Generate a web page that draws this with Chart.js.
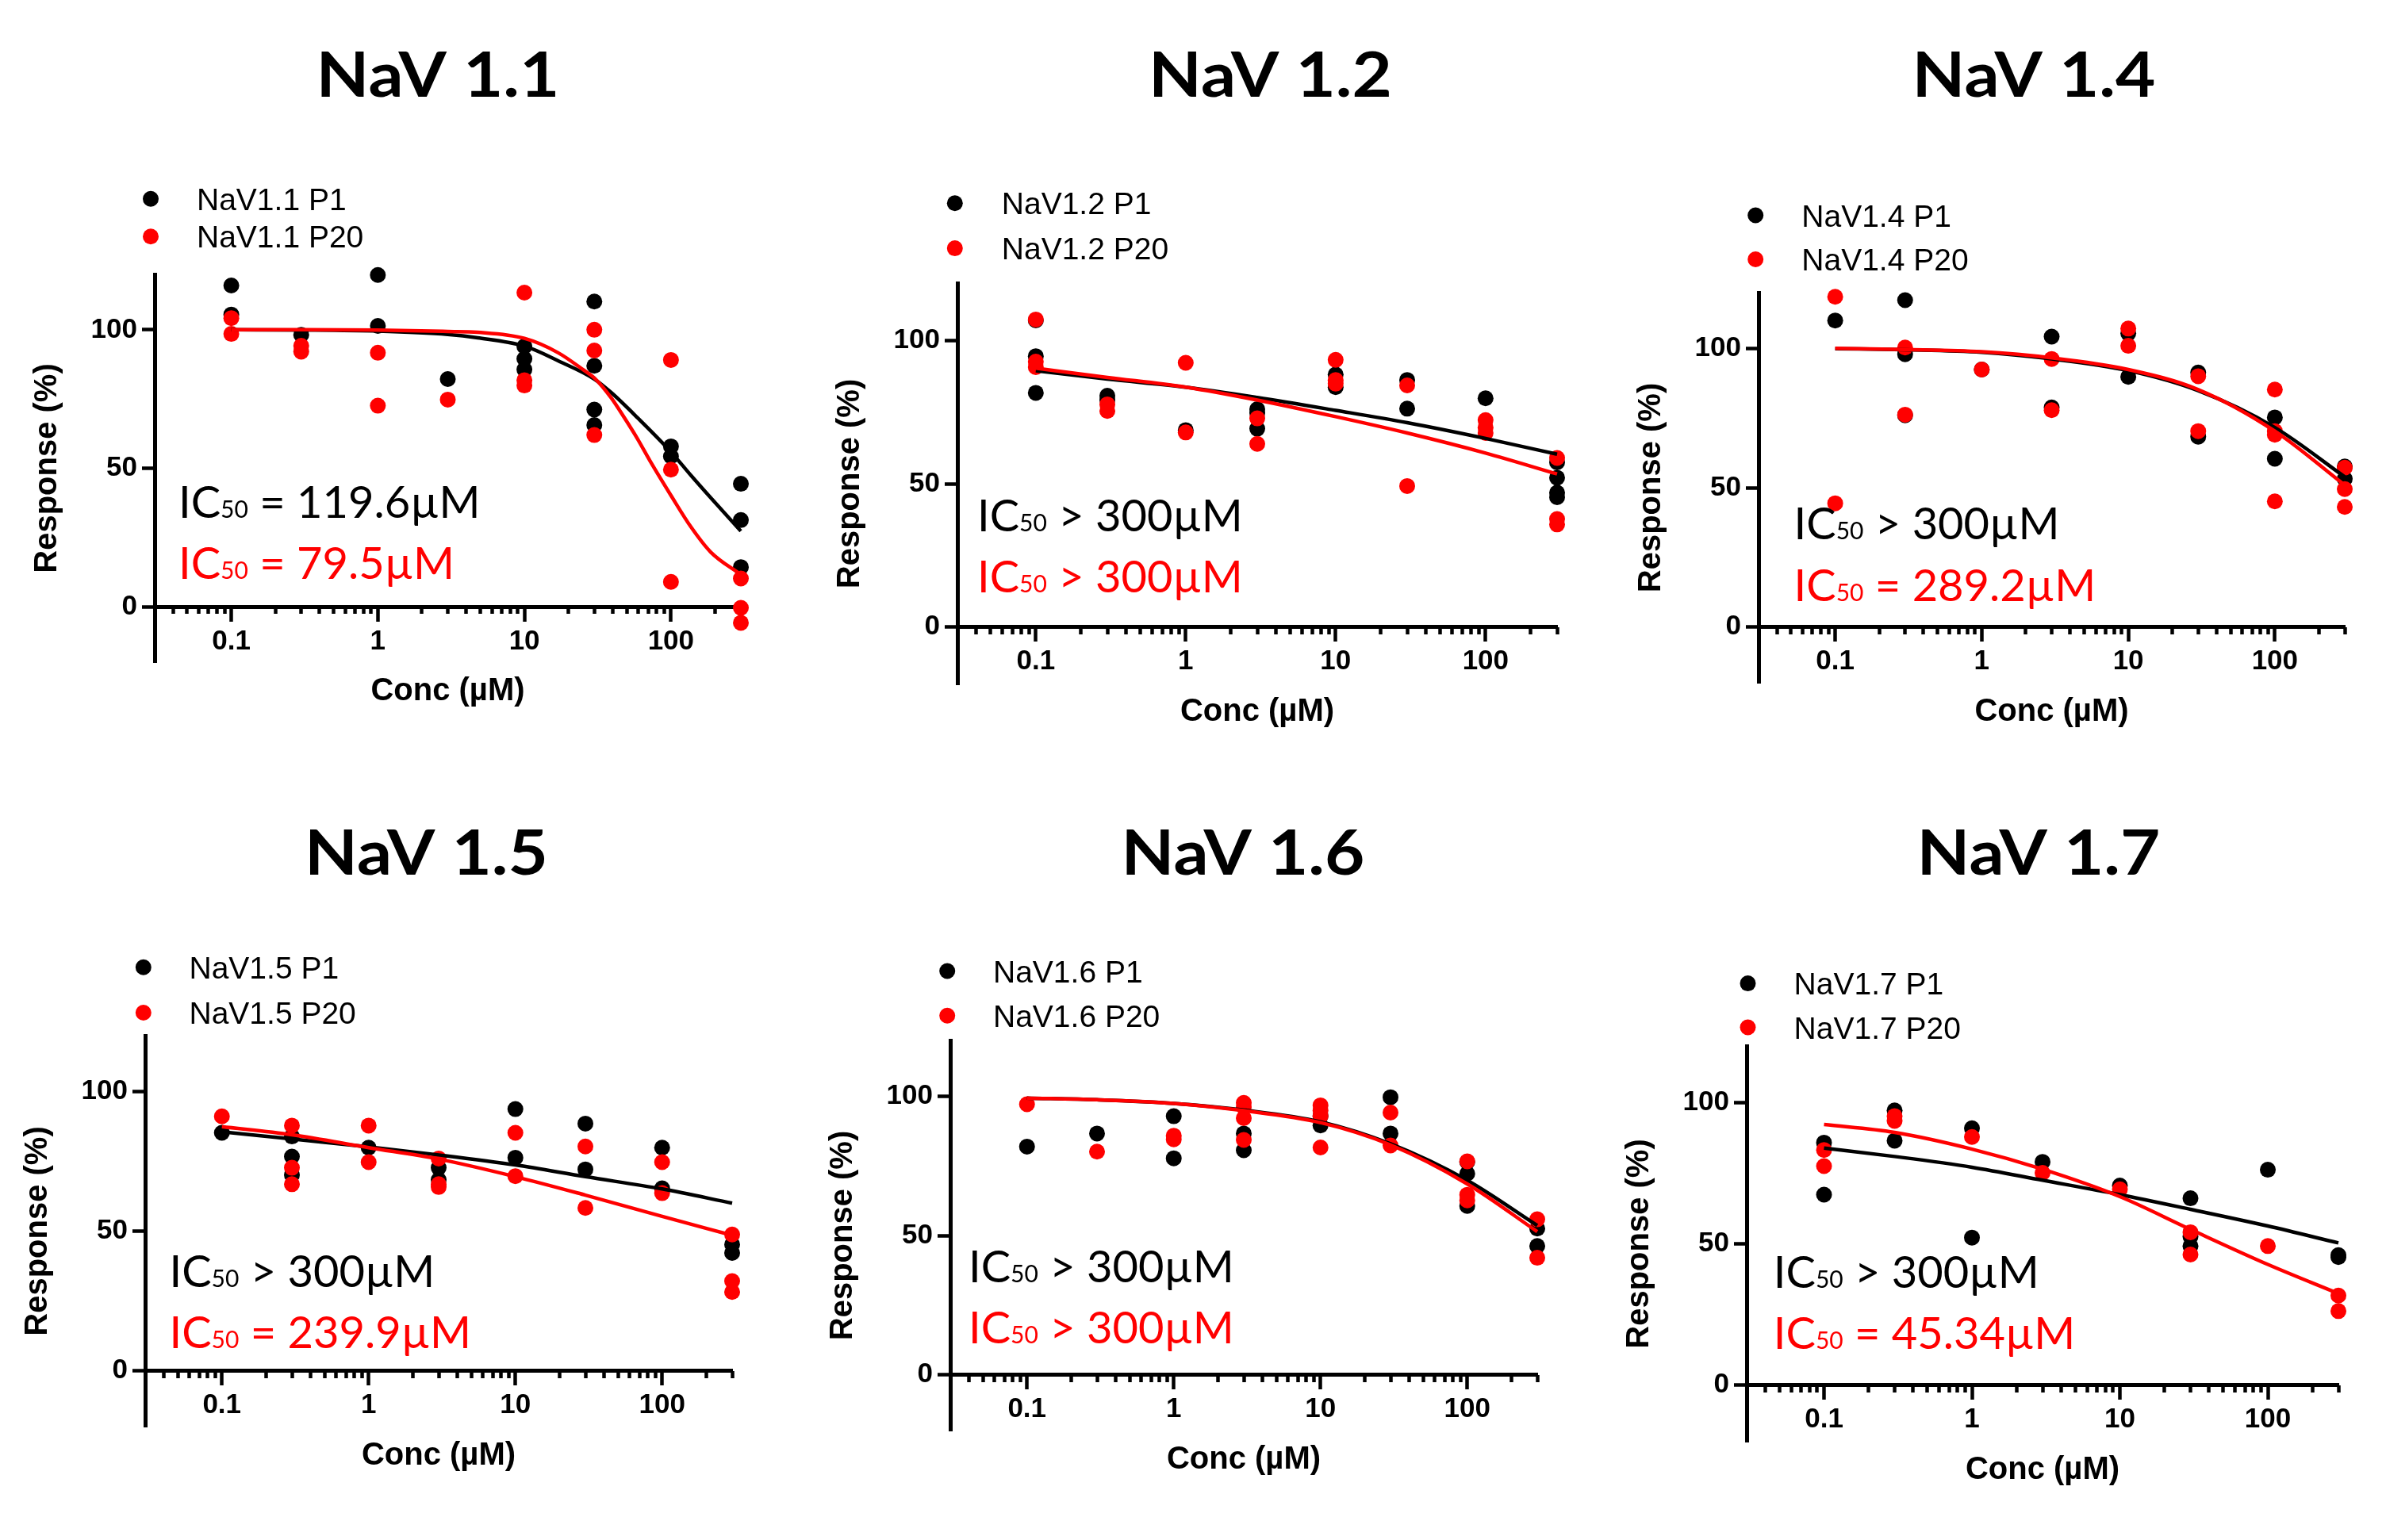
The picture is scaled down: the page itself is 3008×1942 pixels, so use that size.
<!DOCTYPE html>
<html>
<head>
<meta charset="utf-8">
<title>NaV channel concentration-response</title>
<script src="https://cdn.jsdelivr.net/npm/chart.js@4.4.1/dist/chart.umd.min.js"></script>
<style>
html,body{margin:0;padding:0;background:#ffffff;}
body{position:relative;width:3008px;height:1942px;overflow:hidden;}
canvas{position:absolute;}
</style>
</head>
<body>
<canvas id="c0"></canvas>
<canvas id="c1"></canvas>
<canvas id="c2"></canvas>
<canvas id="c3"></canvas>
<canvas id="c4"></canvas>
<canvas id="c5"></canvas>
<script>
// ---------- tick values / labels ----------
const majorTicks = [0.1, 1, 10, 100];
const xTickLabels = ['0.1', '1', '10', '100'];
const minorTicks = [0.04,0.05,0.06,0.07,0.08,0.09,0.2,0.3,0.4,0.5,0.6,0.7,0.8,0.9,2,3,4,5,6,7,8,9,20,30,40,50,60,70,80,90,200,300];
const yTicks = [0, 50, 100];
const yTickLabels = ['0', '50', '100'];

// ---------- panel texts ----------
const panelTitles = ['NaV 1.1', 'NaV 1.2', 'NaV 1.4', 'NaV 1.5', 'NaV 1.6', 'NaV 1.7'];
const legendP1 = ['NaV1.1 P1', 'NaV1.2 P1', 'NaV1.4 P1', 'NaV1.5 P1', 'NaV1.6 P1', 'NaV1.7 P1'];
const legendP20 = ['NaV1.1 P20', 'NaV1.2 P20', 'NaV1.4 P20', 'NaV1.5 P20', 'NaV1.6 P20', 'NaV1.7 P20'];
const ic50P1 = [' = 119.6µM', ' > 300µM', ' > 300µM', ' > 300µM', ' > 300µM', ' > 300µM'];
const ic50P20 = [' = 79.5µM', ' > 300µM', ' = 289.2µM', ' = 239.9µM', ' > 300µM', ' = 45.34µM'];

// ---------- data: [conc µM, response %] ----------
const nav11P1 = [[0.1,116],[0.1,105.5],[0.3,98.2],[1,119.8],[1,101.4],[3,82.2],[10,94],[10,89.5],[10,85.7],[30,110.2],[30,87],[30,71.2],[30,65.6],[100,57.9],[100,54.3],[300,44.4],[300,31.3],[300,14.3]];
const nav11P20 = [[0.1,104.2],[0.1,98.5],[0.3,94.2],[0.3,92.1],[1,91.7],[1,72.6],[3,74.8],[10,113.4],[10,81.8],[10,79.9],[30,100],[30,92.5],[30,62],[100,89.1],[100,49.5],[100,9],[300,10.2],[300,-0.4],[300,-5.8]];
const nav11P1Fit = [[0.1,100],[0.3,99.9],[1,99.5],[3,98.3],[4.8,97.1],[10,94.1],[17,88.8],[30,82.2],[39,77.4],[59,68.3],[100,55.9],[137,47.4],[187,39.3],[300,27.3]];
const nav11P20Fit = [[0.1,100],[0.3,100],[1,99.9],[3,99.4],[4.8,99.1],[10,96.9],[17,91.7],[25.6,85.3],[30,82.6],[39,75.5],[48,68.3],[59,60.7],[73,52.1],[100,40.2],[137,28.8],[187,19.7],[300,11.6]];

const nav12P1 = [[0.1,107],[0.1,94.5],[0.1,81.7],[0.3,80.7],[0.3,79.2],[1,68.7],[3,76],[3,74.7],[3,69.2],[10,88.1],[10,83.7],[30,86.2],[30,76.2],[100,79.8],[300,57.5],[300,52.1],[300,46.9],[300,45.3]];
const nav12P20 = [[0.1,107.3],[0.1,92.6],[0.1,90.7],[0.3,77.7],[0.3,75.4],[1,92.2],[1,67.9],[3,72.8],[3,63.9],[10,93.2],[10,86.2],[10,84.9],[30,84.3],[30,49.2],[100,72.2],[100,69.6],[100,67.7],[300,59],[300,37.7],[300,35.8]];
const nav12P1Fit = [[0.1,89.4],[0.3,86.5],[1,83.7],[3,80.1],[10,75.6],[30,71.3],[100,65.8],[300,60.3]];
const nav12P20Fit = [[0.1,90.3],[0.3,87.1],[1,83.7],[3,79.2],[10,73.4],[30,67.7],[100,60.7],[300,53.4]];

const nav14P1 = [[0.1,110],[0.3,117.3],[0.3,97.9],[0.3,76],[1,92.4],[3,104.2],[3,78.8],[10,105.4],[10,89.8],[30,91.3],[30,68.3],[100,75.2],[100,60.4],[300,57.6],[300,53.2]];
const nav14P20 = [[0.1,118.5],[0.1,44.4],[0.3,100.3],[0.3,76.2],[1,92.4],[3,96.2],[3,77.8],[10,107.1],[10,100.9],[30,90],[30,70.3],[100,85.2],[100,70.3],[100,69],[100,45.1],[300,57.2],[300,49.5],[300,43.1]];
const nav14P1Fit = [[0.1,99.9],[0.3,99.5],[1,98.6],[3,96.2],[10,92],[30,84.8],[100,71.6],[300,53.9]];
const nav14P20Fit = [[0.1,100],[0.3,99.6],[1,98.8],[3,96.6],[10,92.4],[30,85.2],[100,70.3],[300,50.9]];

const nav15P1 = [[0.1,85.2],[0.3,83.9],[0.3,76.7],[0.3,70.1],[1,79.9],[3,72.7],[3,68.4],[10,93.7],[10,76.3],[30,88.5],[30,72.1],[100,79.9],[100,65.3],[300,45.2],[300,42.2]];
const nav15P20 = [[0.1,91.1],[0.3,87.8],[0.3,72.7],[0.3,66.8],[1,87.8],[1,74.7],[3,76],[3,66.8],[3,65.8],[10,85.2],[10,69.7],[30,80.3],[30,58.3],[100,74.7],[100,63.6],[300,48.8],[300,32.1],[300,28.2]];
const nav15P1Fit = [[0.1,85.6],[0.3,83],[1,80.2],[3,77.3],[10,73.7],[30,69.5],[100,65.1],[300,60]];
const nav15P20Fit = [[0.1,87.4],[0.3,84.5],[1,79.9],[3,75.8],[10,69.5],[30,62.9],[100,55.3],[300,48.5]];

const nav16P1 = [[0.1,81.9],[0.3,86.6],[1,92.8],[1,77.7],[3,86.6],[3,80.6],[10,89.5],[10,92.8],[30,99.6],[30,86.6],[100,76.4],[100,72.2],[100,60.6],[300,52.5],[300,46.2]];
const nav16P20 = [[0.1,97.1],[0.3,80.1],[1,85.8],[1,84.5],[3,97.6],[3,96.1],[3,92.1],[3,84.3],[10,96.7],[10,94.8],[10,92.8],[10,81.6],[30,94.1],[30,82.3],[100,76.6],[100,64.6],[100,62.6],[300,55.8],[300,42]];
const nav16P1Fit = [[0.1,99.3],[0.3,98.7],[1,97.4],[3,95],[10,90.8],[30,82.9],[100,69.8],[300,53.6]];
const nav16P20Fit = [[0.1,99.3],[0.3,98.7],[1,97.4],[3,94.8],[10,90.5],[30,82.5],[100,68.5],[300,51.4]];

const nav17P1 = [[0.1,85.8],[0.1,67.4],[0.3,97.2],[0.3,86.5],[1,90.9],[1,52.2],[3,79],[10,70.6],[30,66.1],[30,52.5],[30,49.2],[100,76.2],[300,46],[300,45.3]];
const nav17P20 = [[0.1,83.2],[0.1,77.5],[0.3,95.2],[0.3,93.5],[1,87.8],[3,75.1],[10,69.3],[30,54.1],[30,46.2],[100,49.2],[300,31.7],[300,26.2]];
const nav17P1Fit = [[0.1,83.9],[0.3,80.9],[1,77.1],[3,72.5],[10,67.4],[30,62.2],[100,56.3],[300,50.3]];
const nav17P20Fit = [[0.1,92.2],[0.3,89.4],[1,83.5],[3,76.4],[10,66.7],[30,55.1],[100,42.7],[300,32.4]];

const seriesP1 = [nav11P1, nav12P1, nav14P1, nav15P1, nav16P1, nav17P1];
const seriesP20 = [nav11P20, nav12P20, nav14P20, nav15P20, nav16P20, nav17P20];
const fitP1 = [nav11P1Fit, nav12P1Fit, nav14P1Fit, nav15P1Fit, nav16P1Fit, nav17P1Fit];
const fitP20 = [nav11P20Fit, nav12P20Fit, nav14P20Fit, nav15P20Fit, nav16P20Fit, nav17P20Fit];

// ---------- layout (pixels, relative to each canvas) ----------
const layoutCfg = [
  {left:0,    top:0,   w:1003, h:971, ca:[195,346,934,835], title:[552,121.7],   leg:[190,250.7,298.3,248],     ic:[225,653.3,730]},
  {left:1003, top:0,   w:1003, h:971, ca:[204,357,960,863], title:[598.5,121.7], leg:[200.8,256.3,313.1,259.8], ic:[229,669.8,746.8]},
  {left:2006, top:0,   w:1002, h:971, ca:[211,369,950,861], title:[558,121.7],   leg:[207.2,271.5,327,265.3],   ic:[255.6,680,757.5]},
  {left:0,    top:971, w:1003, h:971, ca:[183,335,923,828], title:[537.5,132],   leg:[180.8,248.8,306,238.5],   ic:[213.5,652,728.8]},
  {left:1003, top:971, w:1003, h:971, ca:[195,341,935,833], title:[564,132],     leg:[191.2,253.5,309.8,249],   ic:[218,645.7,723.2]},
  {left:2006, top:971, w:1002, h:971, ca:[196,348,942,847], title:[564,132],     leg:[197.5,269.1,324.5,255.6], ic:[229.8,652.6,729.7]}
];

const BLACK = '#000000';
const RED = '#ff0000';
const ARIAL = "'Liberation Sans', Arial, sans-serif";
const CALIBRI = "Lato, 'Open Sans', sans-serif";

const toXY = arr => arr.map(p => ({x: p[0], y: p[1]}));

const overlayPlugin = {
  id: 'overlay',
  afterDraw(chart, args, o) {
    const ctx = chart.ctx;
    ctx.save();
    ctx.textBaseline = 'alphabetic';
    // panel title (Calibri-like, slightly widened)
    ctx.save();
    ctx.fillStyle = BLACK;
    ctx.textAlign = 'center';
    ctx.font = "bold 79px " + CALIBRI;
    ctx.translate(o.titleX, o.titleY);
    ctx.scale(1.1, 1);
    ctx.fillText(o.title, 0, 0);
    ctx.restore();
    // legend
    ctx.textAlign = 'left';
    ctx.font = "39px " + ARIAL;
    const items = [[BLACK, o.leg1, o.legY1], [RED, o.leg2, o.legY2]];
    items.forEach(it => {
      ctx.fillStyle = it[0];
      ctx.beginPath();
      ctx.arc(o.dotX, it[2], 10, 0, Math.PI * 2);
      ctx.fill();
      ctx.fillStyle = BLACK;
      ctx.fillText(it[1], o.legTextX, it[2] + 14);
    });
    // IC50 annotations
    const ic = [[BLACK, o.ic1, o.icY1], [RED, o.ic2, o.icY2]];
    ic.forEach(it => {
      ctx.fillStyle = it[0];
      let x = o.icX;
      ctx.font = "56px " + CALIBRI;
      ctx.fillText('IC', x, it[2]);
      x += ctx.measureText('IC').width;
      ctx.font = "30px " + CALIBRI;
      ctx.fillText('50', x, it[2]);
      x += ctx.measureText('50').width;
      ctx.font = "56px " + CALIBRI;
      ctx.fillText(it[1], x, it[2]);
    });
    ctx.restore();
  }
};

function makeChart(i) {
  const L = layoutCfg[i];
  const cv = document.getElementById('c' + i);
  cv.width = L.w; cv.height = L.h;
  cv.style.left = L.left + 'px'; cv.style.top = L.top + 'px';
  cv.style.width = L.w + 'px'; cv.style.height = L.h + 'px';
  const ca = L.ca;
  const tickFont = {family: ARIAL, size: 35, weight: 'bold'};
  const titleFont = {family: ARIAL, size: 40, weight: 'bold'};
  return new Chart(cv, {
    type: 'scatter',
    data: {
      datasets: [
        {type: 'line', label: legendP20[i] + ' fit', data: toXY(fitP20[i]), borderColor: RED, borderWidth: 4.5, pointRadius: 0, cubicInterpolationMode: 'monotone', fill: false, clip: false},
        {type: 'line', label: legendP1[i] + ' fit', data: toXY(fitP1[i]), borderColor: BLACK, borderWidth: 4.5, pointRadius: 0, cubicInterpolationMode: 'monotone', fill: false, clip: false},
        {type: 'scatter', label: legendP20[i], data: toXY(seriesP20[i]), backgroundColor: RED, borderWidth: 0, pointRadius: 10, pointHoverRadius: 10, clip: false},
        {type: 'scatter', label: legendP1[i], data: toXY(seriesP1[i]), backgroundColor: BLACK, borderWidth: 0, pointRadius: 10, pointHoverRadius: 10, clip: false}
      ]
    },
    options: {
      responsive: false,
      animation: false,
      devicePixelRatio: 1,
      layout: {padding: {left: 0, top: ca[1], right: L.w - ca[2], bottom: L.h - ca[3]}},
      plugins: {
        legend: {display: false},
        tooltip: {enabled: false},
        overlay: {
          title: panelTitles[i], titleX: L.title[0], titleY: L.title[1],
          leg1: legendP1[i], leg2: legendP20[i], dotX: L.leg[0], legY1: L.leg[1], legY2: L.leg[2], legTextX: L.leg[3],
          ic1: ic50P1[i], ic2: ic50P20[i], icX: L.ic[0], icY1: L.ic[1], icY2: L.ic[2]
        }
      },
      scales: {
        x: {
          type: 'logarithmic', axis: 'x', min: 0.03, max: 300, position: {y: 0},
          afterBuildTicks: s => { s.ticks = majorTicks.map(v => ({value: v})); },
          afterFit: s => { s.height = 131; },
          grid: {display: true, drawOnChartArea: false, drawTicks: true, tickLength: 16, tickWidth: 4.5, tickColor: BLACK},
          border: {display: true, color: BLACK, width: 5},
          ticks: {autoSkip: false, maxRotation: 0, minRotation: 0, padding: 7, color: BLACK, font: tickFont,
                  callback: (v, idx) => xTickLabels[idx]},
          title: {display: true, text: 'Conc (µM)', color: BLACK, font: titleFont, padding: 0}
        },
        x2: {
          type: 'logarithmic', axis: 'x', min: 0.03, max: 300, position: {y: 0},
          afterBuildTicks: s => { s.ticks = minorTicks.map(v => ({value: v})); },
          grid: {display: true, drawOnChartArea: false, drawTicks: true, tickLength: 9, tickWidth: 4.5, tickColor: BLACK},
          border: {display: false},
          ticks: {display: false, autoSkip: false}
        },
        y: {
          type: 'linear', min: -20, max: 120, position: 'left',
          afterBuildTicks: s => { s.ticks = yTicks.map(v => ({value: v})); },
          afterFit: s => { s.width = ca[0]; },
          grid: {display: true, drawOnChartArea: false, drawTicks: true, tickLength: 16, tickWidth: 4.5, tickColor: BLACK},
          border: {display: true, color: BLACK, width: 5},
          ticks: {autoSkip: false, padding: 6, color: BLACK, font: tickFont, callback: (v, idx) => yTickLabels[idx]},
          title: {display: true, text: 'Response (%)', color: BLACK, font: titleFont, padding: {top: ca[0] - 135 - 24, bottom: 0}}
        }
      }
    },
    plugins: [overlayPlugin]
  });
}

for (let i = 0; i < 6; i++) makeChart(i);
</script>
</body>
</html>
